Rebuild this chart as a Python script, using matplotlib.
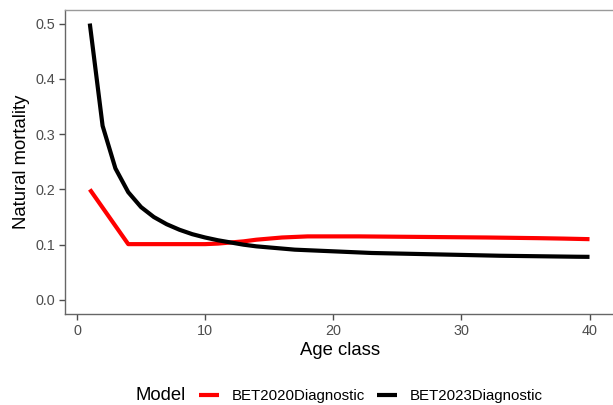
import numpy as np
import matplotlib
matplotlib.use("Agg")
import matplotlib.pyplot as plt
from matplotlib.lines import Line2D

plt.rcParams['font.family'] = ['Liberation Sans', 'DejaVu Sans']

# natural mortality at age, two model runs
age = np.arange(1, 41)
m_2020 = [0.200, 0.167, 0.134, 0.101, 0.101, 0.101, 0.101, 0.101, 0.101, 0.101,
          0.102, 0.104, 0.106, 0.109, 0.111, 0.113, 0.114, 0.115, 0.115, 0.115,
          0.115, 0.115, 0.1148, 0.1146, 0.1144, 0.1142, 0.114, 0.1138, 0.1136, 0.1134,
          0.1132, 0.113, 0.1127, 0.1124, 0.1121, 0.1118, 0.1114, 0.111, 0.1105, 0.110]
m_2023 = [0.500, 0.315, 0.238, 0.195, 0.168, 0.150, 0.137, 0.127, 0.119, 0.113,
          0.108, 0.104, 0.100, 0.097, 0.095, 0.093, 0.091, 0.090, 0.089, 0.088,
          0.087, 0.086, 0.085, 0.0845, 0.084, 0.0835, 0.083, 0.0825, 0.082, 0.0815,
          0.081, 0.0805, 0.080, 0.0797, 0.0794, 0.0791, 0.0788, 0.0785, 0.0782, 0.078]
models = ['BET2020Diagnostic', 'BET2023Diagnostic']
colours = ['#FF0000', '#000000']

W, H = 613, 405
fig = plt.figure(figsize=(W / 100, H / 100), dpi=100)
ax = fig.add_axes([64.8 / W, 1 - 313.8 / H, (614.5 - 64.8) / W, (313.8 - 9.7) / H])

for vals, col in zip([m_2020, m_2023], colours):
    ax.plot(age, vals, color=col, lw=3.0, solid_capstyle='butt',
            solid_joinstyle='round')

ax.set_xlim(-0.95, 41.95)
ax.set_ylim(-0.025, 0.525)
ax.set_xticks([0, 10, 20, 30, 40])
ax.set_yticks([0.0, 0.1, 0.2, 0.3, 0.4, 0.5])
ax.set_yticklabels(['0.0', '0.1', '0.2', '0.3', '0.4', '0.5'])
ax.tick_params(colors='#4D4D4D', labelsize=10.4, length=4, width=1, pad=3)
for s in ['top', 'right']:
    ax.spines[s].set_color('#9a9a9a')
for s in ['left', 'bottom']:
    ax.spines[s].set_color('#666666')
for s in ax.spines.values():
    s.set_linewidth(1)

ax.set_xlabel('Age class', fontsize=13.3, labelpad=3)
ax.set_ylabel('Natural mortality', fontsize=13.3, labelpad=4)

# legend at the bottom, title on the left
fig.text(135.5 / W, 1 - 396 / H, 'Model', fontsize=13.3, va='center', ha='left')
handles = [Line2D([], [], color=c, lw=3.0, solid_capstyle='butt') for c in colours]
fig.legend(handles, models, ncol=2, loc='center left',
           bbox_to_anchor=(199 / W, 1 - 396 / H), frameon=False, borderpad=0,
           borderaxespad=0, fontsize=10.8, handlelength=1.33, handletextpad=0.87,
           columnspacing=0.76)

fig.savefig('out.png', dpi=100)
